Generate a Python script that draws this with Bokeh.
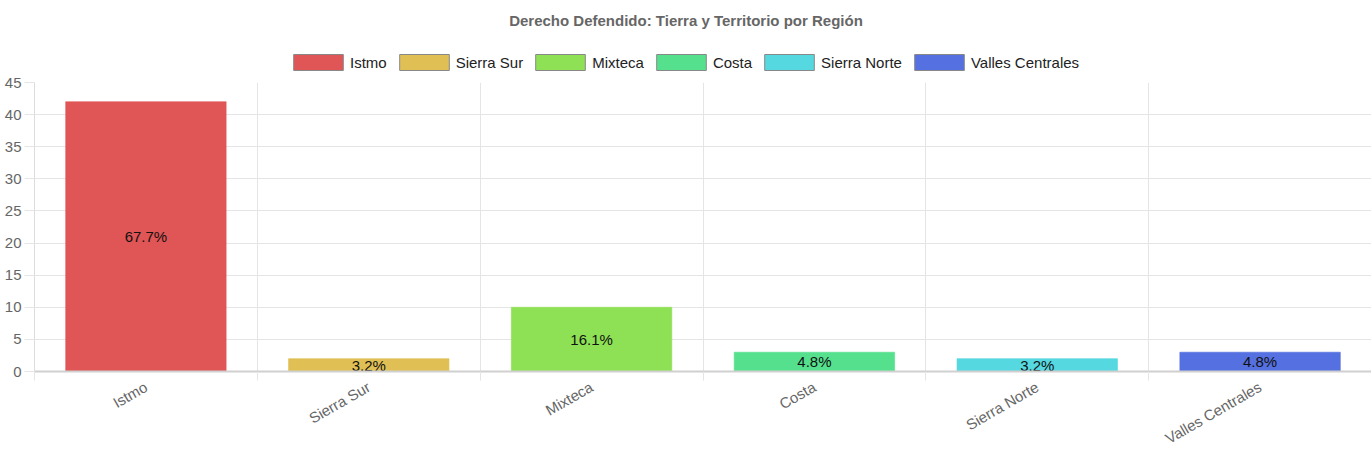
import math
from bokeh.plotting import figure
from bokeh.layouts import column
from bokeh.models import (ColumnDataSource, Range1d, FixedTicker, Legend, LegendItem, Label)
from bokeh.core.properties import value
from bokeh.embed import file_html
from bokeh.resources import INLINE

regions = ["Istmo", "Sierra Sur", "Mixteca", "Costa", "Sierra Norte", "Valles Centrales"]
counts = [42, 2, 10, 3, 2, 3]
colors = ["#E05555", "#E0C055", "#8EE055", "#55E08E", "#55D8E0", "#5570E0"]
y_ticks = [0, 5, 10, 15, 20, 25, 30, 35, 40, 45]
title_text = "Derecho Defendido: Tierra y Territorio por Región"

FONT = "Liberation Sans"
FS = "15px"
W = 1371
H = 457
HEAD_H = 74
LEFT = 34
total = sum(counts)
pcts = ["%.1f%%" % (c / total * 100) for c in counts]
xs = [i + 0.5 for i in range(len(regions))]

# ---------- header: title + legend ----------
h = figure(width=W, height=HEAD_H, output_backend="svg", toolbar_location=None,
           title_location=None, x_axis_location=None, y_axis_location=None,
           x_range=Range1d(LEFT, W), y_range=Range1d(0, HEAD_H),
           min_border=0, min_border_left=LEFT, min_border_right=0,
           min_border_top=0, min_border_bottom=0)
h.outline_line_color = None
h.grid.visible = False
h.add_layout(Label(x=W / 2, y=HEAD_H - 20, text=title_text, text_align="center",
                   text_baseline="middle", text_font=FONT, text_font_size=FS,
                   text_font_style="bold", text_color="#666666"))
items = []
for r, c in zip(regions, colors):
    rr = h.rect(x=[-100], y=[-100], width=1, height=1, fill_color=c, line_color="#888888")
    items.append(LegendItem(label=r, renderers=[rr]))
leg = Legend(items=items, orientation="horizontal", location=(253, 2),
             glyph_width=62, glyph_height=20, label_text_font=FONT, label_text_font_size=FS,
             label_text_color="#222222", spacing=6, label_standoff=1, border_line_color=None,
             background_fill_alpha=0, padding=0, margin=0)
h.add_layout(leg)

# ---------- main chart ----------
src = ColumnDataSource(dict(x=xs, top=counts, mid=[c / 2 for c in counts],
                            color=colors, pct=pcts, name=regions))

p = figure(width=W, height=H - HEAD_H, output_backend="svg", toolbar_location=None,
           title_location=None,
           x_range=Range1d(0, len(regions)), y_range=Range1d(0, 45),
           min_border_left=LEFT, min_border_right=0, min_border_top=8, min_border_bottom=86)
p.outline_line_color = None

p.vbar(x="x", top="top", width=0.72, fill_color="color", line_color="color", line_alpha=0.6,
       source=src)
p.text(x="x", y="mid", text="pct", source=src, text_align="center", text_baseline="middle",
       text_font_size=FS, text_color="#111111", text_font=value(FONT))

xa = p.xaxis[0]
xa.ticker = FixedTicker(ticks=xs, minor_ticks=list(range(len(regions) + 1)))
xa.major_label_overrides = {x: r for x, r in zip(xs, regions)}
xa.major_tick_line_color = None
xa.minor_tick_in = 0
xa.minor_tick_out = 9
xa.minor_tick_line_color = "#e5e5e5"
xa.axis_line_color = "#d0d0d0"
xa.axis_line_width = 2
xa.major_label_orientation = math.pi / 6
xa.major_label_text_font = FONT
xa.major_label_text_font_size = FS
xa.major_label_text_color = "#666666"
xa.major_label_standoff = 5

ya = p.yaxis[0]
ya.ticker = FixedTicker(ticks=y_ticks)
ya.minor_tick_line_color = None
ya.major_tick_in = 0
ya.major_tick_out = 10
ya.major_tick_line_color = "#e5e5e5"
ya.axis_line_color = "#dddddd"
ya.major_label_text_font = FONT
ya.major_label_text_font_size = FS
ya.major_label_text_color = "#666666"
ya.major_label_standoff = 3

p.xgrid.ticker = FixedTicker(ticks=list(range(len(regions) + 1)))
p.xgrid.grid_line_color = "#e5e5e5"
p.ygrid.ticker = FixedTicker(ticks=y_ticks)
p.ygrid.grid_line_color = "#e5e5e5"

layout = column(h, p)
open("out.html", "w").write(file_html(layout, INLINE))
